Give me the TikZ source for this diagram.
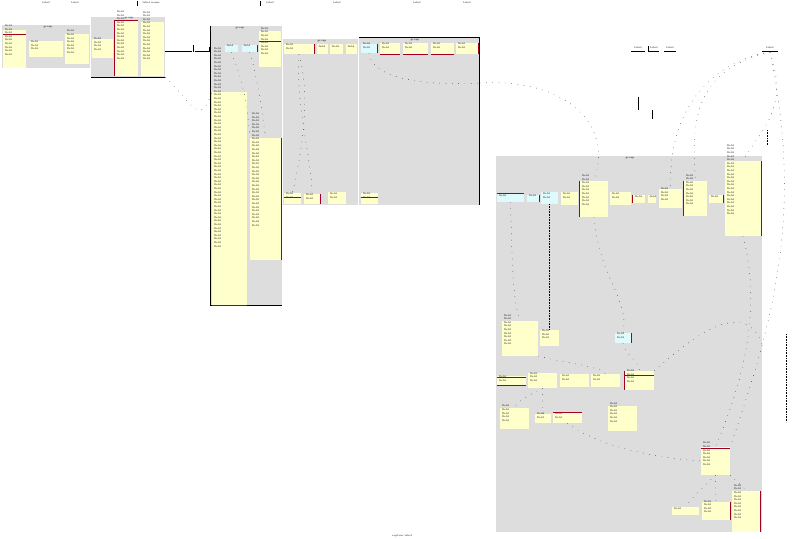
\documentclass[tikz,border=0pt]{standalone}
\usetikzlibrary{fit}
\definecolor{notey}{RGB}{255,255,204}
\definecolor{notec}{RGB}{221,250,252}
\definecolor{clgrey}{RGB}{221,221,221}
\definecolor{barred}{RGB}{160,0,40}
\newcommand{\rowsof}[2]{\parbox{#2pt}{\fontsize{2.6}{3.6}\selectfont\raggedright
  \foreach \r in {1,...,#1}{field\par}}}

\begin{document}
\begin{tikzpicture}[x=1pt,y=-1pt,
				clus/.style={fill=clgrey,inner sep=0pt},
				yel/.style={fill=notey,inner sep=0pt},
				cya/.style={fill=notec,inner sep=0pt},
				bar/.style={draw=barred,line width=0.9pt},
				blk/.style={line width=0.8pt},
				conn/.style={line width=0.4pt,dash pattern=on 0.3pt off 6pt,line cap=round},
				dots/.style={line width=0.4pt,dash pattern=on 0.4pt off 1.2pt},
				ttl/.style={font=\fontsize{2.6}{3}\selectfont,inner sep=0pt}]
				\useasboundingbox (0,0) rectangle (800,538);
				% clusters
				\node[clus,fit={(2,25)(90,68)}] (c1) {};
				\node[clus,fit={(91,17)(165,77)}] (c2) {};
				\node[clus,fit={(211,26)(282,305)}] (c3) {};
				\node[clus,fit={(283,39)(358,205)}] (c4) {};
				\node[clus,fit={(359,38)(479,205)}] (c5) {};
				\node[clus,fit={(496,156)(762,532)}] (c6) {};
				\draw[blk] (c2.south west) -- (c2.south east);
				\draw[blk] (c3.north west) -- (c3.south west) -- (c3.south east);
				\draw[blk] (c5.north west) -- (c5.north east) -- (c5.south east);
				\node[ttl] (t1) at (48,27) {group};
				\node[ttl] (t2) at (129,18) {group};
				\node[ttl] (t3) at (240,28) {group};
				\node[ttl] (t4) at (322,41) {group};
				\node[ttl] (t5) at (415,40) {group};
				\node[ttl] (t6) at (630,158) {group};
				% first groups
				\node[yel,fit={(3,30)(26,68)}] (A) {\rowsof{9}{19}};
				\node[yel,fit={(29,41)(63,57)}] (B) {\rowsof{3}{30}};
				\node[yel,fit={(65,34)(89,64)}] (C) {\rowsof{7}{20}};
				\node[yel,fit={(92,39)(113,58)}] (D) {\rowsof{4}{17}};
				\node[yel,fit={(115,21)(138,76)}] (E) {\rowsof{14}{19}};
				\node[yel,fit={(141,22)(164,76)}] (F) {\rowsof{14}{19}};
				\draw[bar] ([yshift=-5pt]A.north west) -- ([yshift=-5pt]A.north east);
				\draw[bar] (E.south west) -- (E.north west) -- (E.north east);
				% third group
				\node[cya,fit={(225,45)(238,52)}] (C1) {\rowsof{1}{10}};
				\node[cya,fit={(242,45)(257,52)}] (C2) {\rowsof{1}{12}};
				\node[yel,fit={(259,31)(281,67)}] (G) {\rowsof{8}{18}};
				\node[yel,fit={(212,92)(247,305)}] (H) {\rowsof{56}{31}};
				\node[yel,fit={(250,138)(281,260)}] (I) {\rowsof{32}{27}};
				\draw[bar] (C2.north east) -- (C2.south east);
				\draw[bar] ([yshift=-11pt]G.north west) -- ([yshift=-11pt]G.north east);
				\draw[bar] (H.south west) -- (H.south east);
				\draw[bar] (I.north east) -- (I.south east);
				% fourth group
				\node[yel,fit={(284,44)(314,54)}] (J) {\rowsof{2}{26}};
				\node[yel,fit={(317,44)(328,54)}] (K) {\rowsof{1}{8}};
				\node[yel,fit={(330,44)(343,54)}] (L) {\rowsof{1}{9}};
				\node[yel,fit={(346,44)(357,54)}] (M) {\rowsof{1}{8}};
				\node[yel,fit={(284,193)(301,204)}] (N) {\rowsof{2}{13}};
				\node[yel,fit={(304,194)(320,204)}] (O) {\rowsof{2}{12}};
				\node[yel,fit={(328,192)(346,204)}] (P) {\rowsof{2}{14}};
				\draw[bar] (J.north east) -- (J.south east);
				\draw[bar] ([yshift=-5pt]N.north west) -- ([yshift=-5pt]N.north east);
				\draw[bar] (O.north east) -- (O.south east);
				% fifth group
				\node[cya,fit={(361,44)(377,53)}] (Q) {\rowsof{2}{12}};
				\node[yel,fit={(380,43)(400,54)}] (R) {\rowsof{2}{16}};
				\node[yel,fit={(403,43)(428,54)}] (S) {\rowsof{2}{21}};
				\node[yel,fit={(431,43)(454,54)}] (T) {\rowsof{2}{19}};
				\node[yel,fit={(456,43)(478,54)}] (U) {\rowsof{2}{18}};
				\node[yel,fit={(361,193)(378,204)}] (V) {\rowsof{2}{13}};
				\draw[bar] (Q.north east) -- (Q.south east);
				\draw[bar] (R.south west) -- (R.south east);
				\draw[bar] (S.south west) -- (S.south east);
				\draw[bar] (T.south west) -- (T.south east);
				\draw[bar] (U.north east) -- (U.south east);
				\draw[bar] ([yshift=-5pt]V.north west) -- ([yshift=-5pt]V.north east);
				% big group, top row
				\node[cya,fit={(497,194)(524,202)}] (W) {\rowsof{1}{23}};
				\node[cya,fit={(527,195)(539,202)}] (X) {\rowsof{1}{8}};
				\node[cya,fit={(541,192)(558,204)}] (Y) {\rowsof{2}{13}};
				\node[yel,fit={(561,192)(578,205)}] (Z) {\rowsof{2}{13}};
				\node[yel,fit={(580,181)(608,217)}] (AA) {\rowsof{9}{24}};
				\node[yel,fit={(610,192)(631,205)}] (AB) {\rowsof{2}{17}};
				\node[yel,fit={(633,195)(645,203)}] (AC) {\rowsof{1}{8}};
				\node[yel,fit={(648,195)(656,203)}] (AD) {\rowsof{1}{5}};
				\node[yel,fit={(659,189)(682,208)}] (AE) {\rowsof{4}{19}};
				\node[yel,fit={(684,181)(707,216)}] (AF) {\rowsof{9}{19}};
				\node[yel,fit={(709,195)(723,203)}] (AG) {\rowsof{1}{10}};
				\node[yel,fit={(725,161)(761,236)}] (AH) {\rowsof{20}{32}};
				\draw[bar] (W.north west) -- (W.north east);
				\draw[bar] (X.north east) -- (X.south east);
				\draw[bar] (AA.north west) -- (AA.south west);
				\draw[bar] (AC.north west) -- (AC.south west);
				\draw[bar] (AF.north west) -- (AF.south west);
				\draw[bar] (AG.north east) -- (AG.south east);
				\draw[bar] (AH.north east) -- (AH.south east);
				% big group, lower part
				\node[yel,fit={(502,321)(538,356)}] (BA) {\rowsof{9}{32}};
				\node[yel,fit={(540,330)(559,346)}] (BB) {\rowsof{3}{15}};
				\node[cya,fit={(615,333)(631,343)}] (BC) {\rowsof{2}{12}};
				\node[yel,fit={(497,376)(526,386)}] (BD) {\rowsof{2}{25}};
				\node[yel,fit={(528,373)(557,388)}] (BE) {\rowsof{3}{25}};
				\node[yel,fit={(560,374)(589,387)}] (BF) {\rowsof{2}{25}};
				\node[yel,fit={(591,374)(620,387)}] (BG) {\rowsof{2}{25}};
				\node[yel,fit={(625,371)(654,390)}] (BH) {\rowsof{4}{25}};
				\node[yel,fit={(500,408)(529,429)}] (BI) {\rowsof{5}{25}};
				\node[yel,fit={(535,414)(551,423)}] (BJ) {\rowsof{2}{12}};
				\node[yel,fit={(553,413)(582,423)}] (BK) {\rowsof{2}{25}};
				\node[yel,fit={(608,406)(637,431)}] (BL) {\rowsof{6}{25}};
				\node[yel,fit={(701,447)(730,475)}] (BM) {\rowsof{7}{25}};
				\node[yel,fit={(672,507)(699,515)}] (BN) {\rowsof{1}{23}};
				\node[yel,fit={(702,502)(730,520)}] (BO) {\rowsof{4}{24}};
				\node[yel,fit={(732,491)(760,532)}] (BP) {\rowsof{10}{24}};
				\draw[bar] (BC.north east) -- (BC.south east);
				\draw[bar] ([yshift=-2pt]BD.north west) -- ([yshift=-2pt]BD.north east);
				\draw[bar] ([yshift=1pt]BD.south west) -- ([yshift=1pt]BD.south east);
				\draw[bar] (BH.north west) -- (BH.south west);
				\draw[bar] ([yshift=-5pt]BH.north west) -- ([yshift=-5pt]BH.north east);
				\draw[bar] (BK.north west) -- (BK.north east);
				\draw[bar] ([yshift=-2pt]BM.north west) -- ([yshift=-2pt]BM.north east);
				\draw[bar] (BO.north east) -- (BO.south east);
				\draw[bar] (BP.north east) -- (BP.south east);
				% loose labels
				\node[ttl] (l1) at (46,3) {label};
				\node[ttl] (l2) at (75,3) {label};
				\node[ttl] (l3) at (151,3) {label name};
				\node[ttl] (l4) at (270,3) {label};
				\node[ttl] (l5) at (337,3) {label};
				\node[ttl] (l6) at (417,3) {label};
				\node[ttl] (l7) at (467,3) {label};
				\node[ttl] (l8) at (638,48) {label};
				\node[ttl] (l9) at (654,48) {label};
				\node[ttl] (l10) at (670,48) {label};
				\node[ttl] (l11) at (770,48) {label};
				\node[ttl] (cap) at (402,536) {caption label};
				\draw[line width=0.6pt] (137,1) -- (137,6);
				\draw[line width=0.6pt] (260,1) -- (260,6);
				% link between the first groups
				\coordinate (j1) at (193,45);
				\coordinate (j2) at (209,46.5);
				\draw[blk] ([yshift=-4.5pt]c2.east) -- ++(27,0);
				\draw[blk] (j1) -- ++(0,6.5);
				\draw[blk] ([yshift=-4.5pt]c2.east) ++(30,0) -| (j2);
				% marks at top right
				\coordinate (tr) at (770,52);
				\draw[line width=0.6pt] (631,51) -- (645,51);
				\draw[line width=0.6pt] (648,46) -- (648,51) -- (659,51);
				\draw[line width=0.6pt] (664,51) -- (676,51);
				\draw[line width=0.6pt] (762,51) -- (778,51);
				\draw[line width=0.6pt] (638,97) -- (638,110);
				\draw[line width=0.6pt] (652,110) -- (652,119);
				\coordinate (d1) at (767,130);
				\coordinate (d2) at (786,334);
				\draw[dots] (d1) -- ++(0,15);
				\draw[dots] (d2) -- ++(0,88);
				\draw[dots] (Y.south) -- (BB.north);
				% faint connectors
				\coordinate (m1) at (480,83);
				\draw[conn] (c2.south east) .. controls (190,100) and (200,130) .. (H.north west);
				\draw[conn] (C1.south) .. controls (236,66) and (246,84) .. (I.north west);
				\draw[conn] (C2.south) .. controls (256,70) and (262,110) .. (I.north);
				\draw[conn] (J.south) .. controls (312,100) and (300,160) .. (N.north);
				\draw[conn] (J.south) .. controls (296,110) and (312,160) .. (O.north);
				\draw[conn] (Q.south) .. controls (372,78) and (420,86) .. (m1);
				\draw[conn] (m1) .. controls (560,78) and (615,120) .. (AA.north);
				\draw[conn] (tr) .. controls (720,60) and (668,100) .. (AE.north);
				\draw[conn] (tr) .. controls (700,70) and (690,110) .. (AF.north);
				\draw[conn] (tr) .. controls (790,110) and (760,130) .. (AH.north);
				\draw[conn] (tr) .. controls (805,220) and (770,330) .. (BM.north east);
				\draw[conn] (AH.south) .. controls (765,320) and (735,400) .. (BM.north);
				\draw[conn] (W.south) .. controls (512,250) and (512,300) .. (BA.north);
				\draw[conn] (BC.south) .. controls (625,355) and (640,362) .. (BH.north);
				\draw[conn] (BA.south east) .. controls (570,364) and (600,366) .. (BG.north);
				\draw[conn] (BE.south) .. controls (530,395) and (518,400) .. (BI.north);
				\draw[conn] (BE.south) -- (BJ.north);
				\draw[conn] (BK.south) .. controls (600,448) and (660,458) .. (BM.west);
				\draw[conn] (BM.south) .. controls (700,490) and (690,500) .. (BN.north);
				\draw[conn] (BM.south) -- (BO.north);
				\draw[conn] (BM.south east) .. controls (740,485) and (745,488) .. (BP.north);
				\draw[conn] (AA.south) .. controls (600,280) and (630,300) .. (BC.north);
				\draw[conn] (BH.north east) .. controls (700,330) and (745,300) .. (c6.east);
\end{tikzpicture}
\end{document}
